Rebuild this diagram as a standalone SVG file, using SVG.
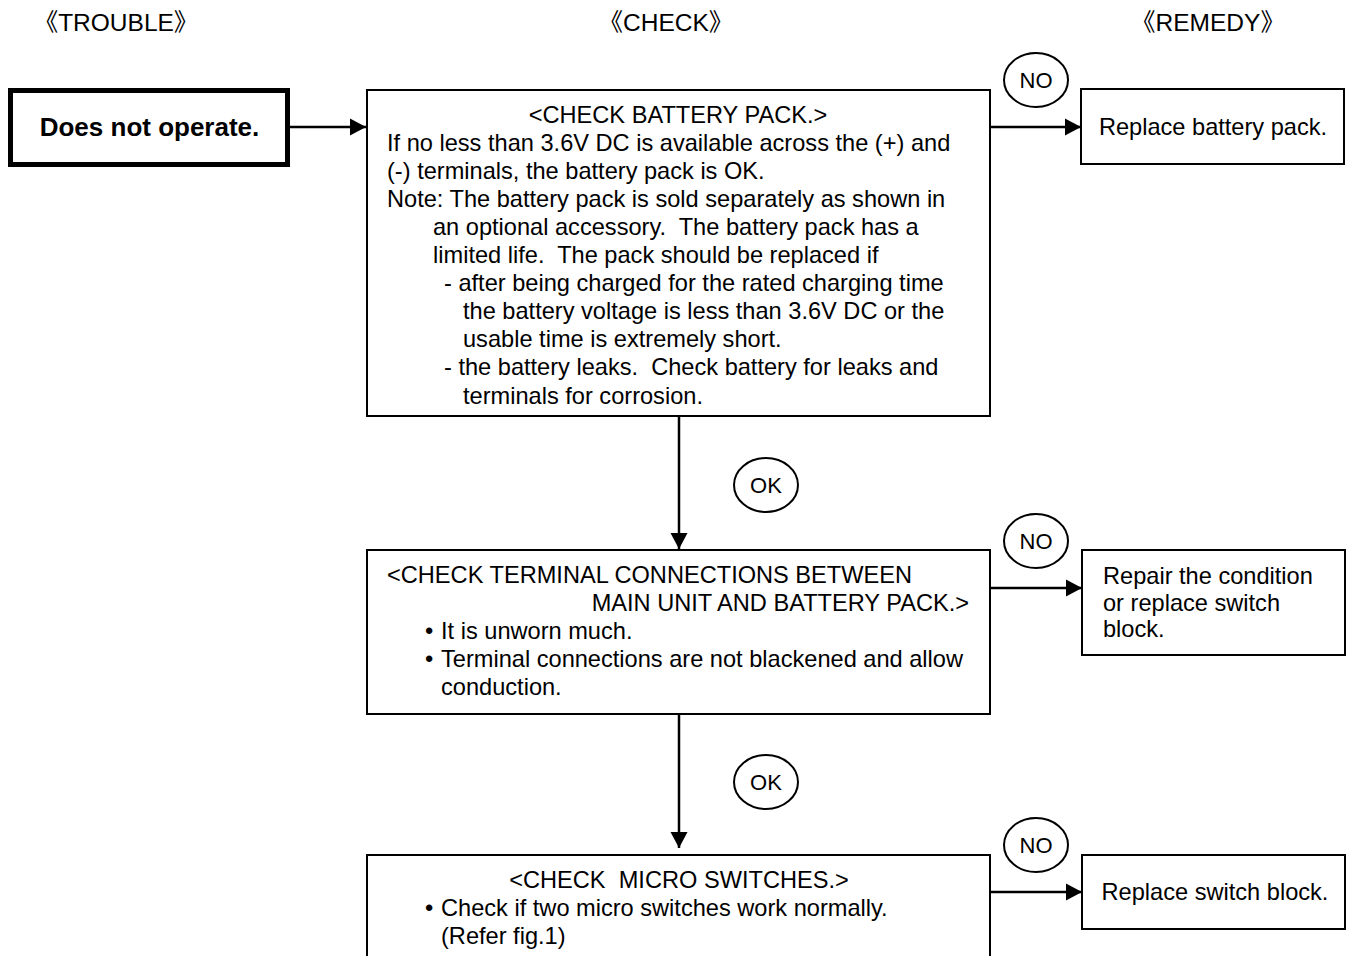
<svg xmlns="http://www.w3.org/2000/svg" width="1352" height="956" viewBox="0 0 1352 956">
<defs>
<style>
text{font-family:"Liberation Sans",Arial,"Noto Sans CJK SC",sans-serif;font-size:23.6px;fill:#000}
.hd{font-family:"Liberation Sans","Noto Sans CJK JP",sans-serif;font-size:24.5px}
.box{fill:#fff;stroke:#000;stroke-width:2}
.bold{fill:#fff;stroke:#000;stroke-width:5}
.lbl{fill:#fff;stroke:#000;stroke-width:2}
.c{text-anchor:middle}
.e{text-anchor:end}
.cn{fill:none;stroke:#000;stroke-width:2.5}
.lt{font-size:22px;text-anchor:middle}
</style>
<marker id="ah" markerUnits="userSpaceOnUse" markerWidth="16" markerHeight="18" viewBox="0 0 16 17" refX="16" refY="8.5" orient="auto">
<path d="M0,0 L16,8.5 L0,17 Z" fill="#000"/>
</marker>
</defs>
<rect width="1352" height="956" fill="#fff"/>

<g id="headers">
<text class="hd c" x="116" y="31">《TROUBLE》</text>
<text class="hd c" x="666" y="31">《CHECK》</text>
<text class="hd c" x="1208" y="31">《REMEDY》</text>
</g>

<g id="connectors">
<line class="cn" x1="290" y1="127" x2="366" y2="127" marker-end="url(#ah)"/>
<line class="cn" x1="990" y1="127" x2="1081" y2="127" marker-end="url(#ah)"/>
<line class="cn" x1="679" y1="416" x2="679" y2="549" marker-end="url(#ah)"/>
<line class="cn" x1="990" y1="588" x2="1082" y2="588" marker-end="url(#ah)"/>
<line class="cn" x1="679" y1="714" x2="679" y2="848" marker-end="url(#ah)"/>
<line class="cn" x1="990" y1="892" x2="1082" y2="892" marker-end="url(#ah)"/>
</g>

<g id="trouble">
<rect class="bold" x="10.5" y="90.5" width="277" height="74"/>
<text class="c" x="149.5" y="136" style="font-weight:bold;font-size:26px">Does not operate.</text>
</g>

<g id="check1">
<rect class="box" x="367" y="90" width="623" height="326"/>
<text class="c" x="678" y="123">&lt;CHECK BATTERY PACK.&gt;</text>
<text x="387" y="151">If no less than 3.6V DC is available across the (+) and</text>
<text x="387" y="179">(-) terminals, the battery pack is OK.</text>
<text x="387" y="207">Note: The battery pack is sold separately as shown in</text>
<text x="433" y="235" xml:space="preserve">an optional accessory.  The battery pack has a</text>
<text x="433" y="263" xml:space="preserve">limited life.  The pack should be replaced if</text>
<text x="444" y="291">- after being charged for the rated charging time</text>
<text x="463" y="319">the battery voltage is less than 3.6V DC or the</text>
<text x="463" y="347">usable time is extremely short.</text>
<text x="444" y="375" xml:space="preserve">- the battery leaks.  Check battery for leaks and</text>
<text x="463" y="404">terminals for corrosion.</text>
</g>

<g id="check2">
<rect class="box" x="367" y="550" width="623" height="164"/>
<text x="387" y="583">&lt;CHECK TERMINAL CONNECTIONS BETWEEN</text>
<text class="e" x="969" y="611">MAIN UNIT AND BATTERY PACK.&gt;</text>
<text x="425" y="639">•<tspan x="441">It is unworn much.</tspan></text>
<text x="425" y="667">•<tspan x="441">Terminal connections are not blackened and allow</tspan></text>
<text x="441" y="695">conduction.</text>
</g>

<g id="check3">
<rect class="box" x="367" y="855" width="623" height="115"/>
<text class="c" x="679" y="888" xml:space="preserve">&lt;CHECK  MICRO SWITCHES.&gt;</text>
<text x="425" y="916">•<tspan x="441">Check if two micro switches work normally.</tspan></text>
<text x="441" y="944">(Refer fig.1)</text>
</g>

<g id="remedy1">
<rect class="box" x="1081" y="89" width="263" height="75"/>
<text class="c" x="1213" y="135">Replace battery pack.</text>
</g>

<g id="remedy2">
<rect class="box" x="1082" y="550" width="263" height="105"/>
<text x="1103" y="584">Repair the condition</text>
<text x="1103" y="611">or replace switch</text>
<text x="1103" y="637">block.</text>
</g>

<g id="remedy3">
<rect class="box" x="1082" y="855" width="263" height="74"/>
<text class="c" x="1215" y="900">Replace switch block.</text>
</g>

<g id="label-no1">
<ellipse class="lbl" cx="1036" cy="80" rx="32" ry="27"/>
<text class="lt" x="1036" y="88">NO</text>
</g>
<g id="label-ok1">
<ellipse class="lbl" cx="766" cy="485" rx="32" ry="27"/>
<text class="lt" x="766" y="493">OK</text>
</g>
<g id="label-no2">
<ellipse class="lbl" cx="1036" cy="541" rx="32" ry="27"/>
<text class="lt" x="1036" y="549">NO</text>
</g>
<g id="label-ok2">
<ellipse class="lbl" cx="766" cy="782" rx="32" ry="27"/>
<text class="lt" x="766" y="790">OK</text>
</g>
<g id="label-no3">
<ellipse class="lbl" cx="1036" cy="845" rx="32" ry="27"/>
<text class="lt" x="1036" y="853">NO</text>
</g>
</svg>
